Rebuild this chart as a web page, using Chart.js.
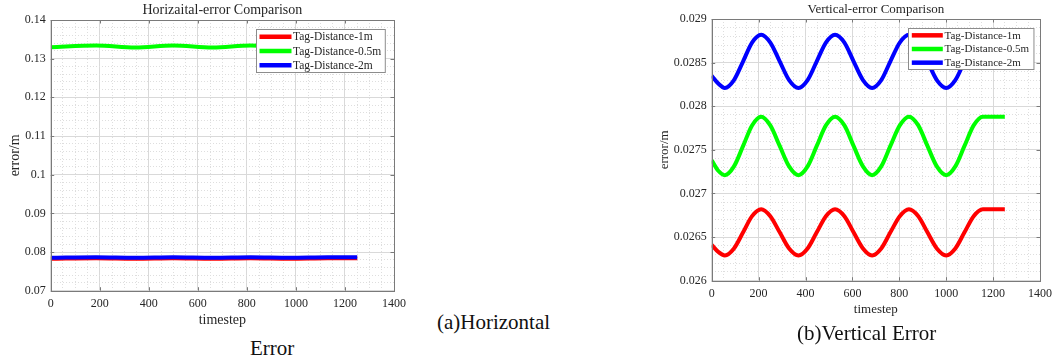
<!DOCTYPE html>
<html>
<head>
<meta charset="utf-8">
<script src="https://cdn.jsdelivr.net/npm/chart.js@4.4.1/dist/chart.umd.min.js"></script>
<style>
  html, body { margin: 0; padding: 0; background: #fff; }
  body { width: 1058px; height: 363px; position: relative; overflow: hidden; font-family: "Liberation Serif", serif; }
  canvas { position: absolute; top: 0; }
  .cap { position: absolute; font-size: 21px; line-height: 24px; color: #111; white-space: nowrap; }
</style>
</head>
<body>
<canvas id="hchart" width="420" height="335" style="left:0px"></canvas>
<canvas id="vchart" width="418" height="325" style="left:640px"></canvas>
<div class="cap" style="left:437px;top:310px">(a)Horizontal</div>
<div class="cap" style="left:250px;top:336px">Error</div>
<div class="cap" style="left:797px;top:321px">(b)Vertical Error</div>
<script>
// series shared by both panels
const seriesNames = ['Tag-Distance-1m', 'Tag-Distance-0.5m', 'Tag-Distance-2m'];
const seriesColors = ['#ff0000', '#00ff00', '#0000ff'];

// (a) horizontal error
const hSteps  = [0, 185, 345, 500, 660, 815, 975, 1130, 1250];
const hErr1m  = [0.07825, 0.07838, 0.07825, 0.07838, 0.07825, 0.07838, 0.07825, 0.07838, 0.07838];
const hErr05m = [0.13295, 0.13340, 0.13290, 0.13340, 0.13290, 0.13340, 0.13290, 0.13340, 0.13340];
const hErr2m  = [0.07855, 0.07868, 0.07855, 0.07868, 0.07855, 0.07868, 0.07855, 0.07868, 0.07868];

// (b) vertical error
const vSteps  = [0, 28, 56, 95, 134, 172, 211, 250, 290, 330, 370, 409, 448, 487, 526, 566,
                 605, 645, 684, 723, 762, 802, 841, 881, 920, 960, 1000, 1039, 1078, 1117, 1156, 1250];
const vErr1m  = [0.02641, 0.02633, 0.02629, 0.02637, 0.026555, 0.02674, 0.02682, 0.02674, 0.026555, 0.02637,
                 0.02629, 0.02637, 0.026555, 0.02674, 0.02682, 0.02674, 0.026555, 0.02637, 0.02629, 0.02637,
                 0.026555, 0.02674, 0.02682, 0.02674, 0.026555, 0.02637, 0.02629, 0.02637, 0.026555, 0.02674,
                 0.02682, 0.02682];
const vErr05m = [0.02738, 0.02726, 0.02721, 0.02731, 0.027545, 0.02778, 0.02788, 0.02778, 0.027545, 0.02731,
                 0.02721, 0.02731, 0.027545, 0.02778, 0.02788, 0.02778, 0.027545, 0.02731, 0.02721, 0.02731,
                 0.027545, 0.02778, 0.02788, 0.02778, 0.027545, 0.02731, 0.02721, 0.02731, 0.027545, 0.02778,
                 0.02788, 0.02788];
const vErr2m  = [0.02835, 0.02826, 0.02821, 0.02830, 0.028515, 0.02873, 0.02882, 0.02873, 0.028515, 0.02830,
                 0.02821, 0.02830, 0.028515, 0.02873, 0.02882, 0.02873, 0.028515, 0.02830, 0.02821, 0.02830,
                 0.028515, 0.02873, 0.02882, 0.02873, 0.028515, 0.02830, 0.02821, 0.02830, 0.028515, 0.02873,
                 0.02882, 0.02882];

const FONT = '"Liberation Serif", serif';
const INK = '#262626';
const FRAME = '#7a7a7a';

Chart.defaults.font.family = FONT;

function isOnStep(v, step) {
  const r = v / step;
  return Math.abs(r - Math.round(r)) < 1e-6;
}

// matlab style box, inward ticks and boxed legend inside the axes
const matlabBox = {
  id: 'matlabBox',
  afterDraw(chart, args, opts) {
    const ctx = chart.ctx;
    const a = chart.chartArea;
    ctx.save();
    ctx.strokeStyle = FRAME;
    ctx.lineWidth = 1;
    ctx.strokeRect(Math.round(a.left) + 0.5, Math.round(a.top) + 0.5,
                   Math.round(a.right - a.left), Math.round(a.bottom - a.top));
    const tl = 3.5;
    ctx.beginPath();
    chart.scales.x.ticks.forEach(t => {
      const px = Math.round(chart.scales.x.getPixelForValue(t.value)) + 0.5;
      ctx.moveTo(px, a.bottom); ctx.lineTo(px, a.bottom - tl);
      ctx.moveTo(px, a.top); ctx.lineTo(px, a.top + tl);
    });
    chart.scales.y.ticks.forEach(t => {
      const py = Math.round(chart.scales.y.getPixelForValue(t.value)) + 0.5;
      ctx.moveTo(a.left, py); ctx.lineTo(a.left + tl, py);
      ctx.moveTo(a.right, py); ctx.lineTo(a.right - tl, py);
    });
    ctx.stroke();

    // legend box
    ctx.font = opts.fontSize + 'px ' + FONT;
    const sets = chart.data.datasets;
    let tw = 0;
    sets.forEach(d => { tw = Math.max(tw, ctx.measureText(d.label).width); });
    const w = opts.padL + opts.sampleW + opts.gap + tw + opts.padR;
    const x0 = Math.round(a.right - opts.insetR - w) + 0.5;
    const y0 = Math.round(a.top + opts.insetT) + 0.5;
    ctx.fillStyle = '#ffffff';
    ctx.fillRect(x0, y0, w, opts.height);
    ctx.strokeStyle = '#8c8c8c';
    ctx.strokeRect(x0, y0, w, opts.height);
    const rowH = opts.height / sets.length;
    sets.forEach((d, i) => {
      const cy = y0 + rowH * (i + 0.5);
      ctx.strokeStyle = d.borderColor;
      ctx.lineWidth = 4.5;
      ctx.beginPath();
      ctx.moveTo(x0 + opts.padL, cy);
      ctx.lineTo(x0 + opts.padL + opts.sampleW, cy);
      ctx.stroke();
      ctx.fillStyle = INK;
      ctx.textBaseline = 'middle';
      ctx.textAlign = 'left';
      ctx.fillText(d.label, x0 + opts.padL + opts.sampleW + opts.gap, cy + 0.5);
    });
    ctx.restore();
  }
};

function buildChart(id, o) {
  const datasets = o.series.map((vals, i) => ({
    label: seriesNames[i],
    data: o.steps.map((s, j) => ({ x: s, y: vals[j] })),
    borderColor: seriesColors[i],
    backgroundColor: seriesColors[i],
    borderWidth: 4,
    borderJoinStyle: 'round',
    pointRadius: 0,
    fill: false,
    cubicInterpolationMode: 'monotone',
    xAxisID: 'x',
    yAxisID: 'y',
    order: o.series.length - 1 - i
  }));

  const minorGrid = step => ({
    color: ctx => isOnStep(ctx.tick.value, step) ? 'rgba(0,0,0,0)' : '#dedede',
    lineWidth: 1,
    drawTicks: false
  });

  return new Chart(document.getElementById(id), {
    type: 'line',
    data: { datasets: datasets },
    plugins: [matlabBox],
    options: {
      responsive: false,
      animation: false,
      events: [],
      layout: { padding: { left: 0, top: 0, right: o.padRight, bottom: 0 } },
      plugins: {
        legend: { display: false },
        tooltip: { enabled: false },
        title: {
          display: true,
          text: o.title,
          color: INK,
          fullSize: false,
          font: { family: FONT, size: o.titleSize, weight: 'normal' },
          padding: o.titlePad
        },
        matlabBox: o.legend
      },
      scales: {
        x: {
          type: 'linear',
          position: 'bottom',
          min: 0, max: 1400,
          ticks: { stepSize: 200, padding: 6, color: INK, font: { family: FONT, size: 12 },
                   maxRotation: 0, autoSkip: false, callback: v => String(v) },
          grid: { color: '#d9d9d9', lineWidth: 1, drawTicks: false },
          border: { display: false },
          title: { display: true, text: 'timestep', color: INK, font: { family: FONT, size: o.labelSize },
                   padding: { top: 0, bottom: o.xTitleBottom } },
          afterFit: s => { s.height = 44.3; }
        },
        xm: {
          type: 'linear',
          position: 'bottom',
          min: 0, max: 1400,
          ticks: { display: false, stepSize: 50 },
          grid: minorGrid(200),
          border: { display: false, dash: [1, 2] },
          afterFit: s => { s.height = 0; }
        },
        y: {
          type: 'linear',
          position: 'left',
          min: o.yMin, max: o.yMax,
          ticks: { stepSize: o.yStep, padding: 5, color: INK, font: { family: FONT, size: 12 },
                   callback: v => String(+v.toFixed(o.yDigits)) },
          grid: { color: '#d9d9d9', lineWidth: 1, drawTicks: false },
          border: { display: false },
          title: { display: true, text: 'error/m', color: INK, font: { family: FONT, size: o.labelSize },
                   padding: { top: o.yTitleTop, bottom: 0 } },
          afterFit: s => { s.width = o.yAxisW; }
        },
        ym: {
          type: 'linear',
          position: 'left',
          min: o.yMin, max: o.yMax,
          ticks: { display: false, stepSize: o.yMinor },
          grid: minorGrid(o.yStep),
          border: { display: false, dash: [1, 2] },
          afterFit: s => { s.width = 0; }
        }
      }
    }
  });
}

buildChart('hchart', {
  title: 'Horizaital-error Comparison',
  titleSize: 14,
  titlePad: { top: 1.6, bottom: 1.6 },
  labelSize: 14,
  xTitleBottom: 6.6,
  yTitleTop: 6.6,
  yAxisW: 50.7,
  padRight: 26,
  steps: hSteps,
  series: [hErr1m, hErr05m, hErr2m],
  yMin: 0.07, yMax: 0.14, yStep: 0.01, yMinor: 0.002, yDigits: 2,
  legend: { insetR: 9, insetT: 9, height: 43, fontSize: 11.5, sampleW: 32, padL: 3, gap: 1.5, padR: 4 }
});

buildChart('vchart', {
  title: 'Vertical-error Comparison',
  titleSize: 13,
  titlePad: { top: 2.2, bottom: 1.2 },
  labelSize: 13,
  xTitleBottom: 7.2,
  yTitleTop: 17.2,
  yAxisW: 71.7,
  padRight: 15,
  steps: vSteps,
  series: [vErr1m, vErr05m, vErr2m],
  yMin: 0.026, yMax: 0.029, yStep: 0.0005, yMinor: 0.0001, yDigits: 4,
  legend: { insetR: 7, insetT: 9, height: 41, fontSize: 11, sampleW: 31, padL: 3.3, gap: 1.7, padR: 5 }
});
</script>
</body>
</html>
